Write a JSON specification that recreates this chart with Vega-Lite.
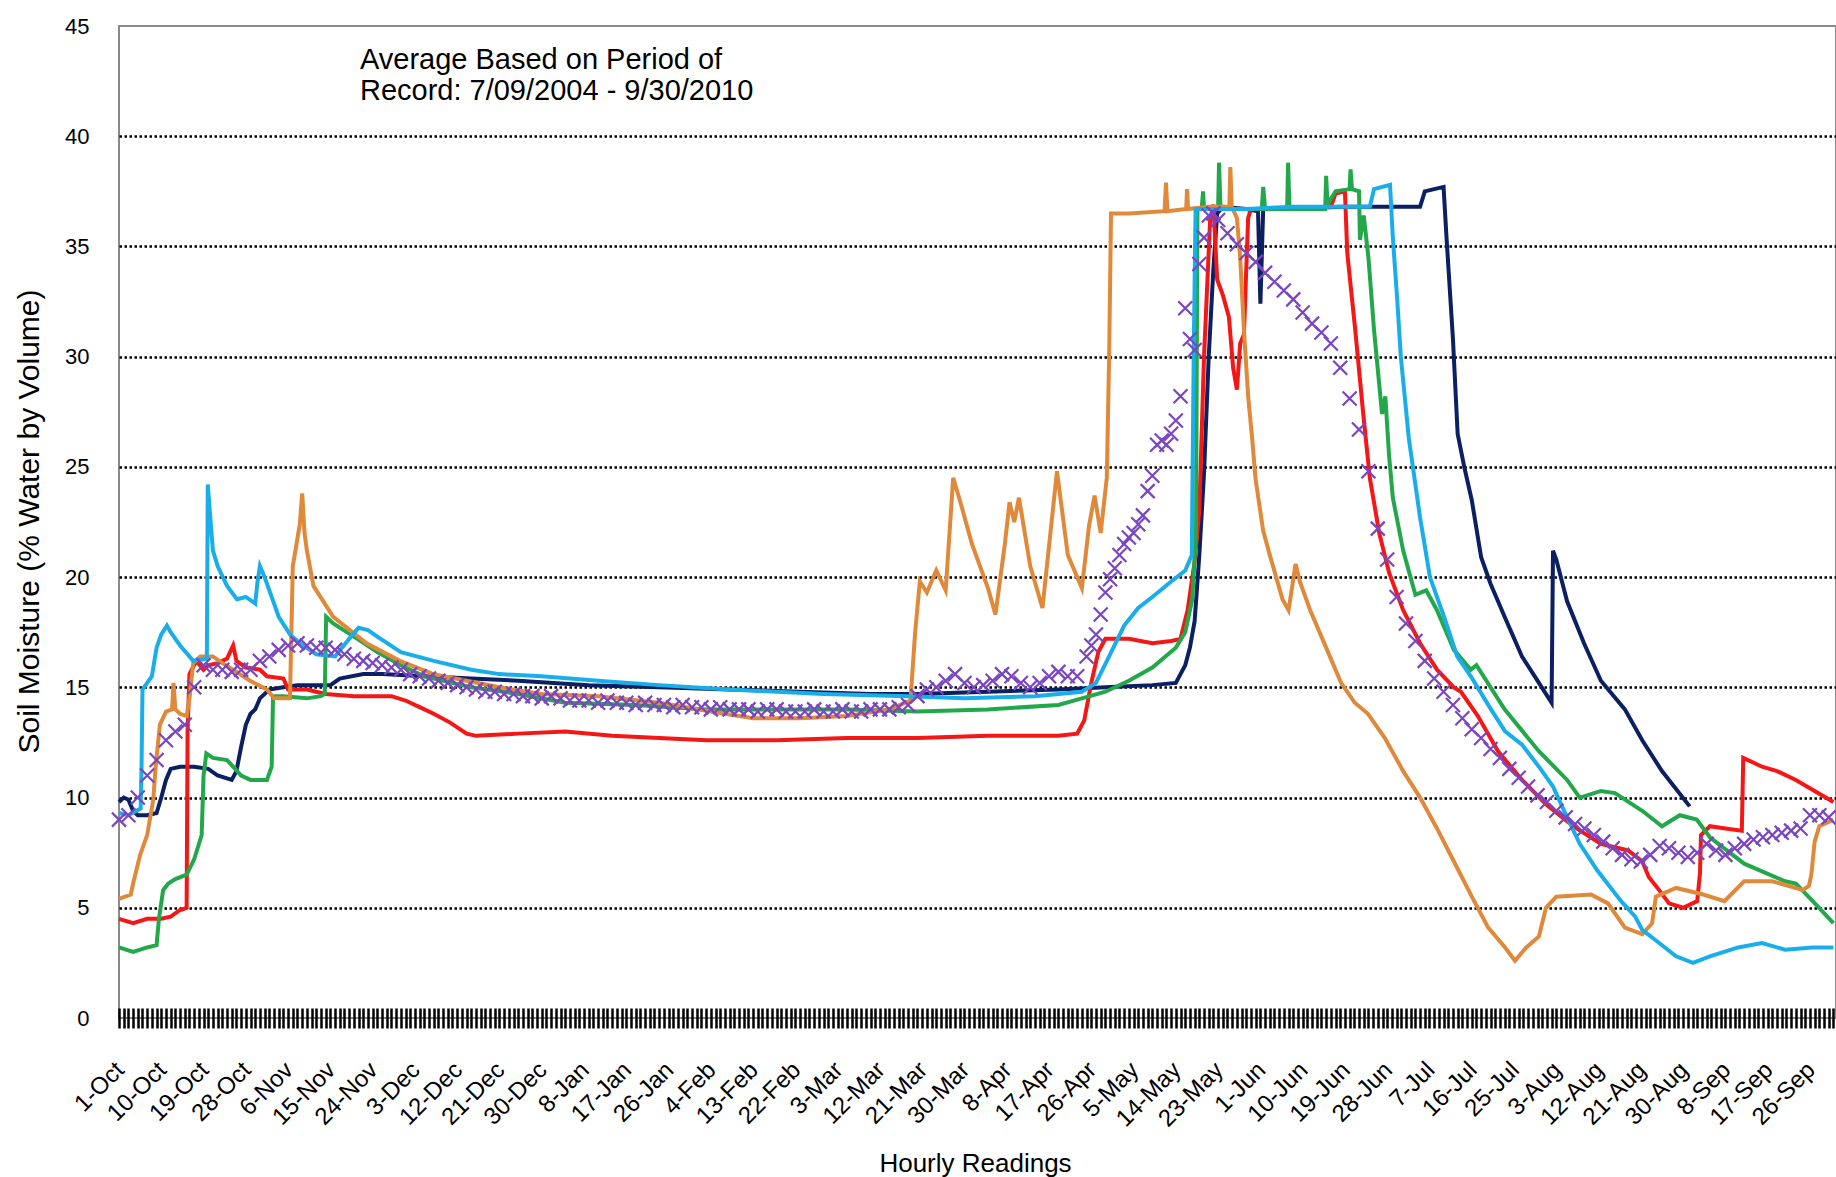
{
  "$schema": "https://vega.github.io/schema/vega-lite/v6.json",
  "width": 1717,
  "height": 992,
  "autosize": {"type": "none"},
  "padding": {"left": 119, "top": 26, "right": 0, "bottom": 159},
  "background": "white",
  "config": {"view": {"stroke": "#8a8a8a", "strokeWidth": 2}, "font": "Liberation Sans"},
  "datasets": {
    "N": [{"d":0,"v":9.8},{"d":1,"v":10.0},{"d":2,"v":9.9},{"d":3,"v":9.4},{"d":4,"v":9.2},{"d":6,"v":9.2},{"d":8,"v":9.3},{"d":9,"v":10.0},{"d":10,"v":10.8},{"d":11,"v":11.3},{"d":13,"v":11.4},{"d":16,"v":11.4},{"d":19,"v":11.3},{"d":21,"v":11.0},{"d":24,"v":10.8},{"d":25,"v":11.2},{"d":26,"v":12.3},{"d":27,"v":13.3},{"d":28,"v":13.8},{"d":29,"v":14.0},{"d":30,"v":14.5},{"d":32,"v":14.9},{"d":35,"v":15.0},{"d":38,"v":15.1},{"d":45,"v":15.1},{"d":47,"v":15.4},{"d":52,"v":15.6},{"d":56,"v":15.6},{"d":65,"v":15.5},{"d":75,"v":15.4},{"d":85,"v":15.3},{"d":100,"v":15.1},{"d":115,"v":15.0},{"d":130,"v":14.9},{"d":145,"v":14.8},{"d":160,"v":14.7},{"d":170,"v":14.7},{"d":185,"v":14.8},{"d":200,"v":14.9},{"d":210,"v":15.0},{"d":220,"v":15.1},{"d":225,"v":15.2},{"d":227,"v":16.0},{"d":228,"v":16.8},{"d":229,"v":18},{"d":230,"v":21},{"d":231,"v":24.7},{"d":232,"v":30},{"d":233,"v":34},{"d":233.8,"v":36.5},{"d":235,"v":36.8},{"d":240,"v":36.7},{"d":242.5,"v":36.6},{"d":243,"v":32.4},{"d":243.6,"v":36.7},{"d":250,"v":36.7},{"d":260,"v":36.8},{"d":270,"v":36.8},{"d":277,"v":36.8},{"d":278,"v":37.5},{"d":282,"v":37.7},{"d":282.6,"v":35.5},{"d":284,"v":30.8},{"d":285,"v":26.5},{"d":286.4,"v":25.0},{"d":288,"v":23.5},{"d":290,"v":20.9},{"d":292,"v":19.7},{"d":295,"v":18.2},{"d":298.7,"v":16.4},{"d":302.3,"v":15.2},{"d":305,"v":14.3},{"d":305.3,"v":21.2},{"d":306,"v":20.8},{"d":308.3,"v":18.9},{"d":311.9,"v":17.0},{"d":315.5,"v":15.3},{"d":320.6,"v":14.0},{"d":324.3,"v":12.6},{"d":328.5,"v":11.2},{"d":334.4,"v":9.6}],
    "R": [{"d":0,"v":4.5},{"d":3,"v":4.3},{"d":6,"v":4.5},{"d":9,"v":4.5},{"d":11,"v":4.6},{"d":13,"v":4.9},{"d":14.4,"v":5.0},{"d":14.6,"v":13},{"d":15,"v":15.6},{"d":16.5,"v":16.2},{"d":18,"v":15.8},{"d":19,"v":16.0},{"d":21,"v":16.1},{"d":23,"v":16.3},{"d":24.3,"v":16.9},{"d":25,"v":16.2},{"d":27,"v":15.9},{"d":30,"v":15.8},{"d":31.5,"v":15.5},{"d":35,"v":15.4},{"d":36,"v":14.9},{"d":40,"v":14.9},{"d":44,"v":14.7},{"d":50,"v":14.6},{"d":58,"v":14.6},{"d":61,"v":14.4},{"d":64,"v":14.1},{"d":67,"v":13.8},{"d":70.5,"v":13.4},{"d":74,"v":12.9},{"d":76,"v":12.8},{"d":85,"v":12.9},{"d":95,"v":13.0},{"d":105,"v":12.8},{"d":115,"v":12.7},{"d":125,"v":12.6},{"d":140,"v":12.6},{"d":155,"v":12.7},{"d":170,"v":12.7},{"d":185,"v":12.8},{"d":200,"v":12.8},{"d":204,"v":12.9},{"d":205.5,"v":13.5},{"d":207,"v":15.2},{"d":208.5,"v":16.6},{"d":210,"v":17.2},{"d":215,"v":17.2},{"d":220,"v":17.0},{"d":224,"v":17.1},{"d":226,"v":17.2},{"d":227.5,"v":18.5},{"d":229,"v":20.7},{"d":230,"v":23},{"d":231,"v":30},{"d":232.3,"v":36.2},{"d":233,"v":36.9},{"d":233.8,"v":33.5},{"d":235,"v":32.8},{"d":236.3,"v":31.8},{"d":237.2,"v":29.5},{"d":238,"v":28.5},{"d":238.7,"v":30.6},{"d":239.5,"v":31.0},{"d":240,"v":34},{"d":240.4,"v":36.3},{"d":241,"v":36.7},{"d":250,"v":36.7},{"d":258,"v":36.8},{"d":259,"v":37.4},{"d":261,"v":37.5},{"d":261.5,"v":34.7},{"d":263.2,"v":31.2},{"d":264.9,"v":27.4},{"d":266.3,"v":24.5},{"d":268.3,"v":22.0},{"d":270.4,"v":20.2},{"d":273.4,"v":18.5},{"d":277,"v":17.0},{"d":280.6,"v":15.8},{"d":284.2,"v":15.0},{"d":285.7,"v":14.8},{"d":289.3,"v":13.7},{"d":293.6,"v":12.1},{"d":298.7,"v":10.8},{"d":303.8,"v":9.7},{"d":309.6,"v":8.7},{"d":315.5,"v":7.9},{"d":321.3,"v":7.6},{"d":324.3,"v":7.1},{"d":325.7,"v":6.4},{"d":327.9,"v":5.8},{"d":330,"v":5.2},{"d":333,"v":5.0},{"d":336,"v":5.3},{"d":336.6,"v":6.6},{"d":336.8,"v":8.3},{"d":338.7,"v":8.7},{"d":342,"v":8.6},{"d":345.5,"v":8.5},{"d":345.8,"v":11.8},{"d":349.8,"v":11.4},{"d":353,"v":11.2},{"d":357,"v":10.8},{"d":361,"v":10.3},{"d":365,"v":9.8}],
    "G": [{"d":0,"v":3.2},{"d":3,"v":3.0},{"d":6,"v":3.2},{"d":8,"v":3.3},{"d":8.5,"v":4.5},{"d":9.4,"v":5.8},{"d":10.5,"v":6.1},{"d":12,"v":6.3},{"d":14.4,"v":6.5},{"d":16,"v":7.2},{"d":17.6,"v":8.3},{"d":18,"v":11},{"d":18.6,"v":12.0},{"d":20,"v":11.8},{"d":23,"v":11.7},{"d":24.3,"v":11.4},{"d":26,"v":11.0},{"d":28,"v":10.8},{"d":31.5,"v":10.8},{"d":32.5,"v":11.4},{"d":32.8,"v":14.6},{"d":35,"v":14.6},{"d":40,"v":14.5},{"d":43,"v":14.6},{"d":43.8,"v":14.7},{"d":44.1,"v":18.2},{"d":45.6,"v":17.9},{"d":50,"v":17.3},{"d":55,"v":16.6},{"d":60,"v":16.0},{"d":65,"v":15.5},{"d":75,"v":15.0},{"d":85,"v":14.7},{"d":95,"v":14.3},{"d":110,"v":14.2},{"d":125,"v":14.0},{"d":140,"v":14.0},{"d":155,"v":14.0},{"d":170,"v":13.9},{"d":185,"v":14.0},{"d":200,"v":14.2},{"d":205,"v":14.5},{"d":210,"v":14.8},{"d":215,"v":15.3},{"d":220,"v":15.9},{"d":225,"v":16.8},{"d":227,"v":17.5},{"d":228.5,"v":19},{"d":229.3,"v":22},{"d":229.6,"v":36.7},{"d":230.5,"v":36.7},{"d":230.8,"v":37.5},{"d":231,"v":36.7},{"d":234,"v":36.7},{"d":234.2,"v":38.8},{"d":234.5,"v":36.7},{"d":243.3,"v":36.7},{"d":243.6,"v":37.7},{"d":244,"v":36.7},{"d":248.7,"v":36.7},{"d":248.9,"v":38.8},{"d":249.2,"v":36.7},{"d":256.8,"v":36.7},{"d":257,"v":38.2},{"d":257.3,"v":36.9},{"d":259,"v":37.5},{"d":262,"v":37.6},{"d":262.2,"v":38.5},{"d":262.5,"v":37.6},{"d":264,"v":37.5},{"d":264.2,"v":35.3},{"d":265,"v":36.4},{"d":266,"v":34.5},{"d":267.2,"v":31.2},{"d":268.9,"v":27.4},{"d":269.6,"v":28.2},{"d":270.4,"v":25.5},{"d":271.2,"v":23.6},{"d":273.4,"v":21.2},{"d":276,"v":19.2},{"d":278.3,"v":19.4},{"d":280.6,"v":18.5},{"d":284.2,"v":16.7},{"d":287.8,"v":15.8},{"d":289,"v":16.0},{"d":295,"v":14.0},{"d":302.3,"v":12.1},{"d":308.3,"v":10.8},{"d":311,"v":10.0},{"d":315.5,"v":10.3},{"d":318.5,"v":10.2},{"d":324.3,"v":9.4},{"d":328.5,"v":8.7},{"d":332.3,"v":9.2},{"d":335.9,"v":9.0},{"d":338.7,"v":8.2},{"d":346,"v":7.0},{"d":354.7,"v":6.2},{"d":357,"v":6.1},{"d":360.6,"v":5.3},{"d":365,"v":4.3}],
    "O": [{"d":0,"v":5.4},{"d":2.5,"v":5.6},{"d":3,"v":6.1},{"d":4.5,"v":7.4},{"d":6,"v":8.3},{"d":7.3,"v":9.9},{"d":7.8,"v":11.4},{"d":8.7,"v":13.3},{"d":10,"v":13.9},{"d":11.3,"v":14.0},{"d":11.6,"v":15.2},{"d":12,"v":14.0},{"d":13,"v":13.8},{"d":14.4,"v":13.7},{"d":15,"v":14.5},{"d":15.8,"v":16.1},{"d":17.3,"v":16.4},{"d":20,"v":16.4},{"d":22,"v":16.1},{"d":24.3,"v":15.8},{"d":27.9,"v":15.3},{"d":31.5,"v":14.9},{"d":33,"v":14.5},{"d":36.4,"v":14.5},{"d":37,"v":20.5},{"d":38.5,"v":22.4},{"d":39,"v":23.8},{"d":39.5,"v":22.0},{"d":40,"v":21.2},{"d":41.4,"v":19.6},{"d":45.6,"v":18.2},{"d":52.7,"v":17.0},{"d":59.8,"v":16.2},{"d":66.9,"v":15.6},{"d":74,"v":15.3},{"d":81,"v":15.0},{"d":90,"v":14.7},{"d":102,"v":14.6},{"d":115,"v":14.3},{"d":126,"v":13.9},{"d":135,"v":13.6},{"d":145,"v":13.6},{"d":155,"v":13.7},{"d":164,"v":14.0},{"d":168.5,"v":14.4},{"d":169.5,"v":17.5},{"d":170.5,"v":19.8},{"d":172,"v":19.3},{"d":174,"v":20.3},{"d":176,"v":19.4},{"d":177.6,"v":24.5},{"d":179,"v":23.5},{"d":181.6,"v":21.5},{"d":185,"v":19.5},{"d":186.6,"v":18.3},{"d":188.6,"v":21.5},{"d":189.6,"v":23.4},{"d":190.6,"v":22.5},{"d":191.6,"v":23.6},{"d":194,"v":20.5},{"d":196.6,"v":18.6},{"d":198.3,"v":22},{"d":199.7,"v":24.8},{"d":202,"v":21},{"d":205,"v":19.5},{"d":206.5,"v":22.3},{"d":207.7,"v":23.7},{"d":209,"v":22},{"d":210.3,"v":24.5},{"d":210.8,"v":30},{"d":211.2,"v":36.5},{"d":215,"v":36.5},{"d":222.6,"v":36.6},{"d":222.9,"v":37.9},{"d":223.2,"v":36.6},{"d":227.2,"v":36.7},{"d":227.4,"v":37.6},{"d":227.6,"v":36.7},{"d":232,"v":36.8},{"d":236.4,"v":36.8},{"d":236.6,"v":38.6},{"d":236.9,"v":36.8},{"d":238,"v":36.3},{"d":238.7,"v":34.5},{"d":239.5,"v":31.2},{"d":240.4,"v":28.2},{"d":241.2,"v":26.4},{"d":242,"v":24.4},{"d":243.6,"v":22.1},{"d":245,"v":21},{"d":247.7,"v":19},{"d":249,"v":18.5},{"d":250.5,"v":20.6},{"d":251.4,"v":19.8},{"d":253.6,"v":18.5},{"d":257.2,"v":16.7},{"d":260.2,"v":15.2},{"d":263.1,"v":14.3},{"d":265.9,"v":13.8},{"d":269.5,"v":12.7},{"d":273.4,"v":11.2},{"d":277,"v":10.0},{"d":280.6,"v":8.6},{"d":284.2,"v":7.1},{"d":287.8,"v":5.6},{"d":291.5,"v":4.1},{"d":295.1,"v":3.2},{"d":297.2,"v":2.6},{"d":299.6,"v":3.2},{"d":302.3,"v":3.7},{"d":303.8,"v":5.0},{"d":306,"v":5.5},{"d":313.4,"v":5.6},{"d":317,"v":5.2},{"d":320.6,"v":4.1},{"d":324.3,"v":3.8},{"d":326.4,"v":4.3},{"d":327.2,"v":5.5},{"d":331.5,"v":5.9},{"d":337.3,"v":5.6},{"d":341.8,"v":5.3},{"d":346,"v":6.2},{"d":352,"v":6.2},{"d":358.5,"v":5.8},{"d":359.8,"v":6.0},{"d":360.3,"v":6.5},{"d":361,"v":8.0},{"d":362,"v":8.7},{"d":365,"v":9.0}],
    "C": [{"d":0,"v":9.3},{"d":2,"v":9.2},{"d":4.6,"v":9.5},{"d":4.8,"v":11.4},{"d":5,"v":14.9},{"d":6,"v":15.2},{"d":7,"v":15.5},{"d":8,"v":16.8},{"d":9,"v":17.4},{"d":10.2,"v":17.8},{"d":11,"v":17.5},{"d":13,"v":16.9},{"d":15.8,"v":16.2},{"d":18.7,"v":16.3},{"d":18.9,"v":24.2},{"d":19.5,"v":22.5},{"d":20,"v":21.2},{"d":21,"v":20.5},{"d":23,"v":19.6},{"d":25.1,"v":19.0},{"d":27,"v":19.1},{"d":29,"v":18.8},{"d":29.5,"v":19.8},{"d":30,"v":20.5},{"d":31,"v":20.0},{"d":32.5,"v":19.1},{"d":34,"v":18.2},{"d":36.4,"v":17.4},{"d":38.5,"v":17.0},{"d":42,"v":16.5},{"d":46,"v":16.4},{"d":49,"v":17.2},{"d":51,"v":17.7},{"d":53,"v":17.6},{"d":55,"v":17.3},{"d":60,"v":16.6},{"d":67,"v":16.2},{"d":75,"v":15.8},{"d":81,"v":15.6},{"d":90,"v":15.5},{"d":102,"v":15.3},{"d":115,"v":15.1},{"d":130,"v":14.9},{"d":150,"v":14.7},{"d":168,"v":14.6},{"d":180,"v":14.5},{"d":195,"v":14.6},{"d":205,"v":14.8},{"d":208,"v":15.2},{"d":211,"v":16.5},{"d":214,"v":17.8},{"d":217,"v":18.6},{"d":220,"v":19.1},{"d":224,"v":19.8},{"d":227,"v":20.3},{"d":228.4,"v":21},{"d":228.8,"v":30},{"d":229.2,"v":36.7},{"d":240,"v":36.7},{"d":250,"v":36.8},{"d":260,"v":36.8},{"d":266.3,"v":36.8},{"d":267.2,"v":37.6},{"d":270.6,"v":37.8},{"d":271.2,"v":35.4},{"d":272.1,"v":32.7},{"d":272.9,"v":30.0},{"d":274.6,"v":26.3},{"d":277,"v":22.7},{"d":279.1,"v":20.0},{"d":282.1,"v":18.2},{"d":284.9,"v":16.4},{"d":287.8,"v":15.5},{"d":292.1,"v":14.0},{"d":295.1,"v":13.0},{"d":298.7,"v":12.4},{"d":302.3,"v":11.4},{"d":305.3,"v":10.5},{"d":308.3,"v":9.1},{"d":311,"v":7.9},{"d":314.7,"v":6.7},{"d":319.8,"v":5.3},{"d":322.8,"v":4.6},{"d":324.3,"v":4.0},{"d":327.9,"v":3.4},{"d":331.5,"v":2.8},{"d":335.1,"v":2.5},{"d":338.7,"v":2.8},{"d":344.7,"v":3.2},{"d":349.8,"v":3.4},{"d":354.7,"v":3.1},{"d":360.6,"v":3.2},{"d":365,"v":3.2}],
    "P": [{"d":0,"v":9.0},{"d":2,"v":9.2},{"d":4,"v":10.0},{"d":6,"v":11.0},{"d":8,"v":11.7},{"d":10,"v":12.6},{"d":12,"v":13.0},{"d":14,"v":13.3},{"d":16,"v":15.0},{"d":18,"v":16.0},{"d":20,"v":15.8},{"d":22,"v":15.8},{"d":24,"v":15.7},{"d":26,"v":15.8},{"d":28,"v":15.8},{"d":30,"v":16.2},{"d":32,"v":16.4},{"d":34,"v":16.7},{"d":36,"v":16.9},{"d":38,"v":17.0},{"d":40,"v":16.9},{"d":42,"v":16.8},{"d":44,"v":16.8},{"d":46,"v":16.7},{"d":48,"v":16.5},{"d":50,"v":16.3},{"d":52,"v":16.2},{"d":54,"v":16.1},{"d":56,"v":16.0},{"d":58,"v":15.9},{"d":60,"v":15.8},{"d":62,"v":15.6},{"d":64,"v":15.5},{"d":66,"v":15.4},{"d":68,"v":15.3},{"d":70,"v":15.2},{"d":72,"v":15.1},{"d":74,"v":15.0},{"d":76,"v":14.9},{"d":78,"v":14.8},{"d":80,"v":14.8},{"d":82,"v":14.7},{"d":84,"v":14.7},{"d":86,"v":14.6},{"d":88,"v":14.6},{"d":90,"v":14.5},{"d":92,"v":14.6},{"d":94,"v":14.5},{"d":96,"v":14.4},{"d":98,"v":14.4},{"d":100,"v":14.4},{"d":102,"v":14.3},{"d":104,"v":14.4},{"d":106,"v":14.3},{"d":108,"v":14.3},{"d":110,"v":14.2},{"d":112,"v":14.3},{"d":114,"v":14.2},{"d":116,"v":14.2},{"d":118,"v":14.1},{"d":120,"v":14.2},{"d":122,"v":14.1},{"d":124,"v":14.1},{"d":126,"v":14.0},{"d":128,"v":14.1},{"d":130,"v":14.0},{"d":132,"v":14.0},{"d":134,"v":14.0},{"d":136,"v":13.9},{"d":138,"v":14.0},{"d":140,"v":14.0},{"d":142,"v":13.9},{"d":144,"v":13.9},{"d":146,"v":13.9},{"d":148,"v":14.0},{"d":150,"v":13.9},{"d":152,"v":13.9},{"d":154,"v":14.0},{"d":156,"v":13.9},{"d":158,"v":13.9},{"d":160,"v":14.0},{"d":162,"v":14.0},{"d":164,"v":14.0},{"d":166,"v":14.1},{"d":168,"v":14.2},{"d":170,"v":14.6},{"d":172,"v":14.9},{"d":174,"v":15.0},{"d":176,"v":15.3},{"d":178,"v":15.6},{"d":180,"v":15.2},{"d":182,"v":15.0},{"d":184,"v":15.1},{"d":186,"v":15.3},{"d":188,"v":15.6},{"d":190,"v":15.5},{"d":192,"v":15.2},{"d":194,"v":15.0},{"d":196,"v":15.2},{"d":198,"v":15.5},{"d":200,"v":15.7},{"d":202,"v":15.5},{"d":204,"v":15.5},{"d":206,"v":16.4},{"d":207,"v":16.9},{"d":208,"v":17.4},{"d":209,"v":18.3},{"d":210,"v":19.3},{"d":211,"v":19.9},{"d":212,"v":20.4},{"d":213,"v":21.0},{"d":214,"v":21.5},{"d":215,"v":21.8},{"d":216,"v":22.0},{"d":217,"v":22.4},{"d":218,"v":22.8},{"d":219,"v":23.9},{"d":220,"v":24.6},{"d":221,"v":26.0},{"d":222,"v":26.2},{"d":223,"v":26.0},{"d":224,"v":26.5},{"d":225,"v":27.1},{"d":226,"v":28.2},{"d":227,"v":32.2},{"d":228,"v":30.8},{"d":229,"v":30.3},{"d":230,"v":34.2},{"d":231,"v":35.4},{"d":232,"v":36.4},{"d":233,"v":36.5},{"d":234,"v":36.2},{"d":236,"v":35.6},{"d":238,"v":35.1},{"d":240,"v":34.7},{"d":242,"v":34.3},{"d":244,"v":33.8},{"d":246,"v":33.4},{"d":248,"v":33.0},{"d":250,"v":32.6},{"d":252,"v":32.0},{"d":254,"v":31.5},{"d":256,"v":31.1},{"d":258,"v":30.6},{"d":260,"v":29.5},{"d":262,"v":28.1},{"d":264,"v":26.7},{"d":266,"v":24.8},{"d":268,"v":22.2},{"d":270,"v":20.8},{"d":272,"v":19.1},{"d":274,"v":17.9},{"d":276,"v":17.1},{"d":278,"v":16.2},{"d":280,"v":15.4},{"d":282,"v":14.8},{"d":284,"v":14.2},{"d":286,"v":13.6},{"d":288,"v":13.1},{"d":290,"v":12.7},{"d":292,"v":12.2},{"d":294,"v":11.8},{"d":296,"v":11.3},{"d":298,"v":10.9},{"d":300,"v":10.5},{"d":302,"v":10.1},{"d":304,"v":9.8},{"d":306,"v":9.4},{"d":308,"v":9.1},{"d":310,"v":8.8},{"d":312,"v":8.6},{"d":314,"v":8.3},{"d":316,"v":8.0},{"d":318,"v":7.7},{"d":320,"v":7.4},{"d":322,"v":7.2},{"d":324,"v":7.1},{"d":326,"v":7.4},{"d":328,"v":7.8},{"d":330,"v":7.7},{"d":332,"v":7.5},{"d":334,"v":7.3},{"d":336,"v":7.5},{"d":338,"v":7.9},{"d":340,"v":7.6},{"d":342,"v":7.4},{"d":344,"v":7.7},{"d":346,"v":7.9},{"d":348,"v":8.1},{"d":350,"v":8.2},{"d":352,"v":8.3},{"d":354,"v":8.4},{"d":356,"v":8.5},{"d":358,"v":8.6},{"d":360,"v":9.2},{"d":362,"v":9.2},{"d":364,"v":9.1}],
    "T": [{"d":51.3,"v":43.07,"t":"Average Based on Period of"},{"d":51.3,"v":41.63,"t":"Record: 7/09/2004 - 9/30/2010"}]
  },
  "encoding": {
    "x": {
      "field": "d", "type": "quantitative",
      "scale": {"domain": [0, 365.55], "nice": false, "zero": false},
      "axis": {
        "title": "Hourly Readings", "titleFont": "Liberation Sans", "titleFontSize": 26, "titleFontWeight": "normal", "titleColor": "black",
        "titleX": 856, "titleY": 155, "titleBaseline": "middle", "titleAlign": "center",
        "offset": -10, "domain": false, "grid": false,
        "tickCount": 365, "tickSize": 20, "tickWidth": 2.5, "tickColor": "black",
        "labelAngle": -45, "labelAlign": "right", "labelBaseline": "middle", "labelPadding": 38,
        "labelFontSize": 24, "labelColor": "black", "labelOverlap": false, "labelFlush": false, "labelBound": false,
        "labelOffset": 1,
        "labelExpr": "datum.value % 9 === 0 ? timeFormat(datetime(2009, 9, 1 + datum.value), '%-d-%b') : ''"
      }
    },
    "y": {
      "field": "v", "type": "quantitative",
      "scale": {"domain": [0, 45], "nice": false},
      "axis": {
        "values": [0, 5, 10, 15, 20, 25, 30, 35, 40, 45],
        "title": "Soil Moisture (% Water by Volume)", "titleFont": "Liberation Sans", "titleFontSize": 30, "titleFontWeight": "normal", "titleColor": "black",
        "titleX": -90, "titleY": 495, "titleAngle": -90, "titleBaseline": "middle", "titleAlign": "center",
        "ticks": false, "domain": false, "labelPadding": 30, "labelFontSize": 22, "labelColor": "black",
        "grid": true, "gridColor": "black", "gridDash": [2.5, 2.5], "gridWidth": 2.5,
        "gridOpacity": {"condition": {"test": "datum.value === 45 || datum.value === 0", "value": 0}, "value": 1}
      }
    }
  },
  "layer": [
    {"data": {"name": "N"}, "mark": {"type": "line", "color": "#0B1F63", "strokeWidth": 4}},
    {"data": {"name": "R"}, "mark": {"type": "line", "color": "#F51616", "strokeWidth": 4}},
    {"data": {"name": "G"}, "mark": {"type": "line", "color": "#22A84A", "strokeWidth": 4}},
    {"data": {"name": "O"}, "mark": {"type": "line", "color": "#E0893A", "strokeWidth": 4}},
    {"data": {"name": "C"}, "mark": {"type": "line", "color": "#19AEEA", "strokeWidth": 4}},
    {"data": {"name": "P"}, "mark": {"type": "point", "shape": "M-1,-1L1,1M-1,1L1,-1", "filled": false, "stroke": "#7B45C2", "strokeWidth": 2.2, "size": 196, "opacity": 1}},
    {"data": {"name": "T"}, "mark": {"type": "text", "align": "left", "baseline": "alphabetic", "fontSize": 29, "font": "Liberation Sans", "color": "black"}, "encoding": {"text": {"field": "t"}}}
  ]
}
